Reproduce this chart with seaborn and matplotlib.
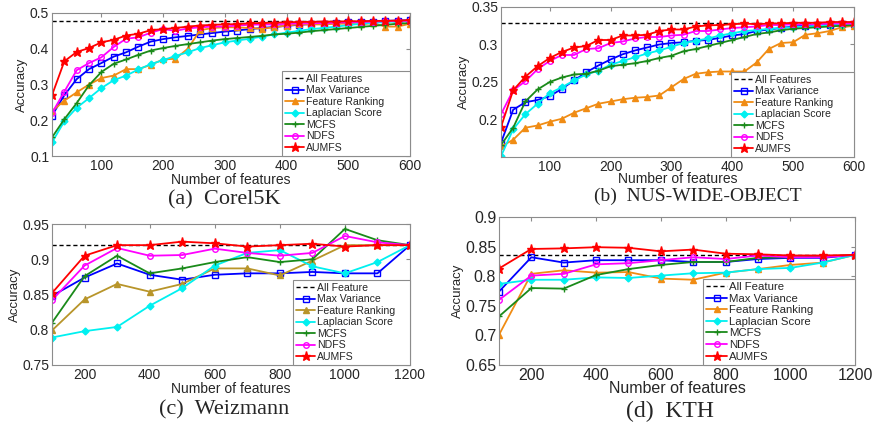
import matplotlib
matplotlib.use("Agg")
import matplotlib.pyplot as plt
import seaborn as sns
import numpy as np
from matplotlib.ticker import FuncFormatter

sns.set_style("white")
plt.rcParams['font.family'] = ['Liberation Sans', 'DejaVu Sans']

# ---------------- data ----------------
x_small = [20, 40, 60, 80, 100, 120, 140, 160, 180, 200, 220, 240, 260, 280, 300,
           320, 340, 360, 380, 400, 420, 440, 460, 480, 500, 520, 540, 560, 580, 600]
x_large = [100, 200, 300, 400, 500, 600, 700, 800, 900, 1000, 1100, 1200]

methods = ["Max Variance", "Feature Ranking", "Laplacian Score", "MCFS", "NDFS", "AUMFS"]

# (a) Corel5K
corel_all = 0.478
corel_maxvar = [0.213, 0.27, 0.315, 0.343, 0.36, 0.378, 0.39, 0.406, 0.42, 0.427, 0.432, 0.436, 0.44, 0.444, 0.448,
                0.451, 0.455, 0.458, 0.461, 0.464, 0.467, 0.469, 0.47, 0.472, 0.474, 0.475, 0.476, 0.478, 0.479, 0.48]
corel_fr = [0.225, 0.255, 0.278, 0.30, 0.318, 0.325, 0.343, 0.343, 0.355, 0.37, 0.372, 0.40, 0.452, 0.458, 0.46,
            0.46, 0.458, 0.456, 0.46, 0.465, 0.468, 0.468, 0.468, 0.47, 0.47, 0.468, 0.472, 0.462, 0.462, 0.47]
corel_lap = [0.138, 0.197, 0.235, 0.262, 0.29, 0.312, 0.325, 0.342, 0.357, 0.368, 0.38, 0.39, 0.402, 0.41, 0.418,
             0.423, 0.428, 0.434, 0.44, 0.445, 0.45, 0.455, 0.458, 0.462, 0.466, 0.47, 0.472, 0.475, 0.476, 0.478]
corel_mcfs = [0.152, 0.203, 0.248, 0.298, 0.335, 0.358, 0.37, 0.383, 0.395, 0.402, 0.408, 0.413, 0.418, 0.423, 0.427,
              0.43, 0.433, 0.436, 0.44, 0.442, 0.445, 0.449, 0.452, 0.455, 0.458, 0.461, 0.464, 0.467, 0.47, 0.472]
corel_ndfs = [0.22, 0.28, 0.34, 0.36, 0.376, 0.405, 0.428, 0.432, 0.445, 0.455, 0.45, 0.457, 0.46, 0.462, 0.462,
              0.465, 0.467, 0.468, 0.468, 0.47, 0.471, 0.471, 0.472, 0.473, 0.474, 0.475, 0.476, 0.477, 0.478, 0.478]
corel_aumfs = [0.27, 0.365, 0.391, 0.402, 0.418, 0.425, 0.437, 0.442, 0.452, 0.455, 0.458, 0.462, 0.465, 0.467, 0.468,
               0.469, 0.471, 0.472, 0.473, 0.474, 0.475, 0.475, 0.476, 0.476, 0.477, 0.477, 0.478, 0.478, 0.479, 0.48]

# (b) NUS-WIDE-OBJECT
nus_all = 0.328
nus_maxvar = [0.169, 0.213, 0.223, 0.226, 0.231, 0.241, 0.252, 0.263, 0.272, 0.28, 0.287, 0.292, 0.296, 0.3, 0.302,
              0.303, 0.305, 0.306, 0.309, 0.312, 0.314, 0.318, 0.32, 0.322, 0.324, 0.325, 0.326, 0.326, 0.327, 0.327]
nus_fr = [0.164, 0.173, 0.189, 0.192, 0.197, 0.201, 0.209, 0.215, 0.221, 0.224, 0.227, 0.229, 0.23, 0.232, 0.243,
          0.254, 0.261, 0.263, 0.264, 0.264, 0.264, 0.276, 0.294, 0.302, 0.303, 0.313, 0.315, 0.318, 0.323, 0.325]
nus_lap = [0.151, 0.187, 0.207, 0.221, 0.235, 0.243, 0.252, 0.26, 0.265, 0.273, 0.278, 0.283, 0.288, 0.292, 0.297,
           0.302, 0.305, 0.308, 0.312, 0.315, 0.318, 0.319, 0.321, 0.322, 0.323, 0.324, 0.325, 0.326, 0.326, 0.327]
nus_mcfs = [0.166, 0.189, 0.224, 0.24, 0.25, 0.256, 0.26, 0.261, 0.265, 0.271, 0.273, 0.275, 0.278, 0.282, 0.285,
            0.291, 0.294, 0.298, 0.302, 0.306, 0.31, 0.314, 0.316, 0.319, 0.321, 0.322, 0.323, 0.324, 0.325, 0.326]
nus_ndfs = [0.207, 0.239, 0.251, 0.267, 0.278, 0.286, 0.286, 0.294, 0.295, 0.302, 0.304, 0.308, 0.31, 0.31, 0.312,
            0.313, 0.318, 0.318, 0.32, 0.322, 0.323, 0.324, 0.326, 0.326, 0.327, 0.327, 0.327, 0.328, 0.328, 0.328]
nus_aumfs = [0.19, 0.239, 0.257, 0.271, 0.282, 0.29, 0.296, 0.298, 0.306, 0.306, 0.312, 0.312, 0.313, 0.318, 0.32,
             0.32, 0.324, 0.3255, 0.326, 0.327, 0.328, 0.327, 0.328, 0.328, 0.329, 0.329, 0.329, 0.33, 0.33, 0.33]

# (c) Weizmann
weiz_all = 0.92
weiz_maxvar = [0.848, 0.874, 0.894, 0.878, 0.871, 0.878, 0.88, 0.88, 0.882, 0.88, 0.88, 0.92]
weiz_fr = [0.799, 0.843, 0.865, 0.854, 0.865, 0.887, 0.887, 0.877, 0.898, 0.92, 0.92, 0.92]
weiz_lap = [0.789, 0.798, 0.804, 0.834, 0.859, 0.891, 0.909, 0.913, 0.89, 0.88, 0.896, 0.92]
weiz_mcfs = [0.81, 0.876, 0.905, 0.88, 0.887, 0.896, 0.903, 0.896, 0.9, 0.943, 0.927, 0.92]
weiz_ndfs = [0.842, 0.891, 0.916, 0.905, 0.906, 0.915, 0.909, 0.905, 0.909, 0.933, 0.924, 0.92]
weiz_aumfs = [0.852, 0.905, 0.92, 0.92, 0.925, 0.9226, 0.918, 0.92, 0.922, 0.918, 0.92, 0.92]

# (d) KTH
kth_all = 0.836
kth_maxvar = [0.774, 0.832, 0.823, 0.827, 0.827, 0.827, 0.824, 0.824, 0.829, 0.831, 0.831, 0.836]
kth_fr = [0.701, 0.804, 0.81, 0.806, 0.807, 0.796, 0.794, 0.806, 0.812, 0.819, 0.823, 0.836]
kth_lap = [0.787, 0.794, 0.794, 0.798, 0.797, 0.801, 0.805, 0.806, 0.812, 0.814, 0.823, 0.836]
kth_mcfs = [0.732, 0.78, 0.779, 0.802, 0.812, 0.819, 0.824, 0.824, 0.831, 0.832, 0.833, 0.836]
kth_ndfs = [0.76, 0.801, 0.804, 0.82, 0.822, 0.827, 0.832, 0.829, 0.835, 0.832, 0.832, 0.836]
kth_aumfs = [0.813, 0.846, 0.847, 0.849, 0.848, 0.842, 0.845, 0.838, 0.837, 0.835, 0.835, 0.836]

# ---------------- styles ----------------
orange = "#f08c14"
olive = "#b8952a"
styles = {
    "Max Variance": dict(color="#0000ff", marker="s", mfc="none", ms=4),
    "Feature Ranking": dict(color=orange, marker="^", mfc=None, ms=4.5),
    "Laplacian Score": dict(color="#00f0f0", marker="D", mfc=None, ms=3.5),
    "MCFS": dict(color="#1a8a1a", marker="+", mfc=None, ms=5),
    "NDFS": dict(color="#ff00ff", marker="o", mfc="none", ms=4),
    "AUMFS": dict(color="#ff0000", marker="*", mfc=None, ms=6.5),
}

W, H = 878, 429
fig = plt.figure(figsize=(W / 100, H / 100), dpi=100)
SERIF = ["Liberation Serif", "DejaVu Serif"]


def px_axes(left, right, top, bottom):
    return fig.add_axes([left / W, 1 - bottom / H, (right - left) / W, (bottom - top) / H])


def panel(ax, xs, series, all_val, all_label, xlim, ylim, xticks, yticks, caption, cap_xy,
          cap_fs, leg_w, fr_color=orange, fs=10, legend_fs=7.6, xlabelpad=0, ylabel_fs=9.5):
    ax.axhline(all_val, color="black", ls=(0, (3, 2)), lw=1.0, label=all_label)
    for name, ys in zip(methods, series):
        st = dict(styles[name])
        if name == "Feature Ranking":
            st["color"] = fr_color
        c = st["color"]
        mfc = st["mfc"] if st["mfc"] is not None else c
        sns.lineplot(x=xs, y=ys, ax=ax, color=c, marker=st["marker"], markersize=st["ms"],
                     markerfacecolor=mfc, markeredgecolor=c, markeredgewidth=1.0,
                     linewidth=1.3, label=name)
    ax.set_xlim(*xlim)
    ax.set_ylim(*ylim)
    ax.set_xticks(xticks)
    ax.set_yticks(yticks)
    ax.yaxis.set_major_formatter(FuncFormatter(lambda v, p: f"{v:g}"))
    ax.tick_params(direction="in", top=True, right=True, length=3, color="#8c8c8c",
                   labelsize=fs, pad=2)
    for s in ax.spines.values():
        s.set_color("#8c8c8c")
        s.set_linewidth(0.8)
    ax.set_xlabel("Number of features", fontsize=fs, labelpad=xlabelpad)
    ax.set_ylabel("Accuracy", fontsize=ylabel_fs, labelpad=1)
    axw = ax.get_position().width * W
    frac = leg_w / axw
    leg = ax.legend(loc="lower left", bbox_to_anchor=(1 - frac, 0, frac, 1), mode="expand",
                    fontsize=legend_fs, frameon=True, fancybox=False,
                    borderaxespad=0.0, handlelength=1.8, handletextpad=0.2,
                    labelspacing=0.14, borderpad=0.3, edgecolor="#8c8c8c", framealpha=1,
                    facecolor="white")
    leg.get_frame().set_linewidth(0.8)
    leg.set_zorder(10)
    fig.text(cap_xy[0] / W, 1 - cap_xy[1] / H, caption, ha="center", va="center",
             fontsize=cap_fs, family=SERIF)


ax_a = px_axes(52, 410, 13, 156)
panel(ax_a, x_small, [corel_maxvar, corel_fr, corel_lap, corel_mcfs, corel_ndfs, corel_aumfs],
      corel_all, "All Features", (20, 600), (0.1, 0.5), [100, 200, 300, 400, 500, 600],
      [0.1, 0.2, 0.3, 0.4, 0.5], "(a)  Corel5K", (224, 200), 16, 128)

ax_b = px_axes(501, 854, 7, 157)
panel(ax_b, x_small, [nus_maxvar, nus_fr, nus_lap, nus_mcfs, nus_ndfs, nus_aumfs],
      nus_all, "All Features", (20, 600), (0.15, 0.35), [100, 200, 300, 400, 500, 600],
      [0.2, 0.25, 0.3, 0.35], "(b)  NUS-WIDE-OBJECT", (698, 196), 14, 123, xlabelpad=-1)

ax_c = px_axes(52, 410, 224, 365)
panel(ax_c, x_large, [weiz_maxvar, weiz_fr, weiz_lap, weiz_mcfs, weiz_ndfs, weiz_aumfs],
      weiz_all, "All Feature", (100, 1200), (0.75, 0.95), [200, 400, 600, 800, 1000, 1200],
      [0.75, 0.8, 0.85, 0.9, 0.95], "(c)  Weizmann", (224, 410), 16, 117, fr_color=olive)

ax_d = px_axes(499, 855, 217, 365)
panel(ax_d, x_large, [kth_maxvar, kth_fr, kth_lap, kth_mcfs, kth_ndfs, kth_aumfs],
      kth_all, "All Feature", (100, 1200), (0.65, 0.9), [200, 400, 600, 800, 1000, 1200],
      [0.65, 0.7, 0.75, 0.8, 0.85, 0.9], "(d)  KTH", (670, 411), 17, 152,
      fs=11.5, legend_fs=8.2, xlabelpad=-1, ylabel_fs=9.5)

fig.savefig("out.png", dpi=100)
